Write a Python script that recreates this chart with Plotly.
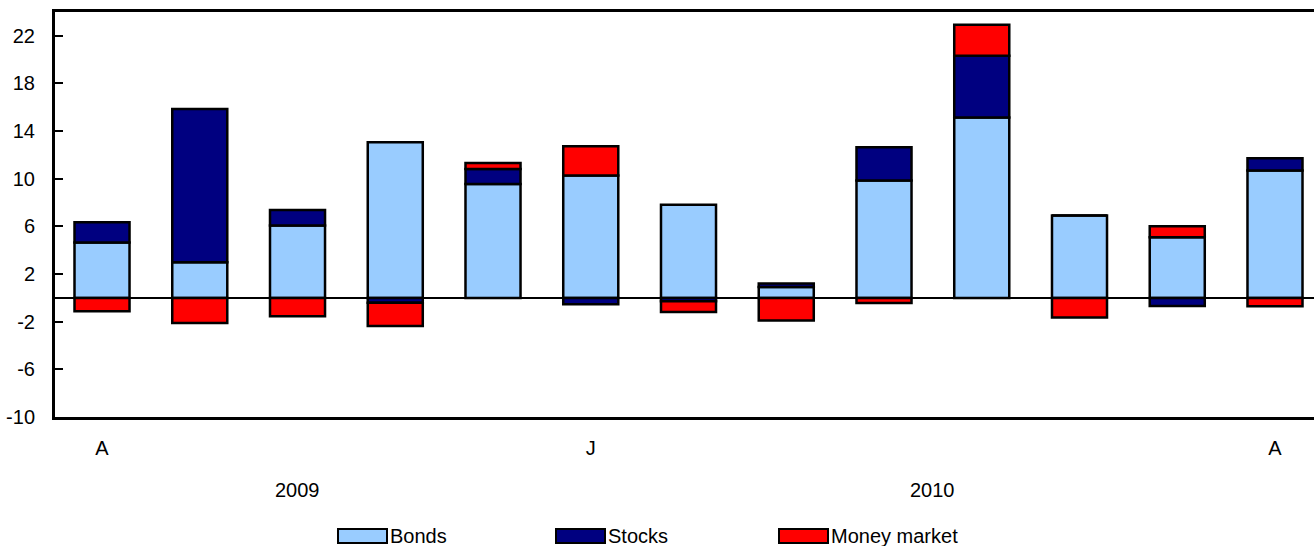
import plotly.graph_objects as go

months = ["A", "S", "O", "N", "D", "J", "F", "M", "A", "M", "J", "J", "A"]
years = ["2009", "2010"]
bonds = [4.65, 3.0, 6.08, 13.06, 9.57, 10.27, 7.81, 0.91, 9.85, 15.15, 6.92, 5.1, 10.69]
stocks = [1.7, 12.85, 1.3, -0.4, 1.26, -0.54, -0.28, 0.29, 2.79, 5.17, 0.0, -0.68, 1.03]
money_market = [-1.12, -2.1, -1.54, -1.95, 0.5, 2.45, -0.9, -1.9, -0.43, 2.6, -1.65, 0.92, -0.7]
series_names = ["Bonds", "Stocks", "Money market"]
colors = ["#99ccff", "#000080", "#ff0000"]
y_ticks = [-10, -6, -2, 2, 6, 10, 14, 18, 22]
y_tick_text = ["-10", "-6", "-2", "2", "6", "10", "14", "18", "22"]

FONT = "Liberation Sans, Arial, sans-serif"
x = list(range(len(months)))

fig = go.Figure()
for name, vals, col in zip(series_names, [bonds, stocks, money_market], colors):
    fig.add_trace(go.Bar(
        x=x, y=vals, name=name, width=0.563,
        marker=dict(color=col, line=dict(color="black", width=2.5)),
        showlegend=False,
    ))

fig.update_layout(
    width=1314, height=546,
    margin=dict(l=55, r=0, t=12, b=129),
    barmode="relative",
    plot_bgcolor="white", paper_bgcolor="white",
    font=dict(family=FONT, size=20, color="black"),
)
fig.update_xaxes(
    range=[-0.481, 12.399],
    tickmode="array", tickvals=[0, 5, 12],
    ticktext=[months[0], months[5], months[12]],
    ticks="", showline=True, linecolor="black", linewidth=3, mirror=True,
    showgrid=False, zeroline=False, ticklabelstandoff=11,
)
fig.update_yaxes(
    range=[-10, 24], tickmode="array", tickvals=y_ticks, ticktext=y_tick_text,
    ticks="inside", ticklen=8, tickwidth=2, tickcolor="black",
    showline=True, linecolor="black", linewidth=3,
    showgrid=False, zeroline=True, zerolinecolor="black", zerolinewidth=2,
    ticklabelstandoff=13,
)

# year labels
fig.add_annotation(x=2, y=-0.18, xref="x", yref="paper", text=years[0],
                   showarrow=False, yanchor="middle")
fig.add_annotation(x=8.5, y=-0.18, xref="x", yref="paper", text=years[1],
                   showarrow=False, yanchor="middle")

# custom legend
def px_to_paper_x(px):
    return (px - 55) / 1259.0

def py_to_paper_y(py):
    return (417 - py) / 405.0

leg_x = [338, 556, 779]
for lx, name, col in zip(leg_x, series_names, colors):
    fig.add_shape(type="rect", xref="paper", yref="paper",
                  x0=px_to_paper_x(lx), x1=px_to_paper_x(lx + 49),
                  y0=py_to_paper_y(543), y1=py_to_paper_y(529),
                  fillcolor=col, line=dict(color="black", width=2))
    fig.add_annotation(x=px_to_paper_x(lx + 50), y=py_to_paper_y(536),
                       xref="paper", yref="paper", text=name, showarrow=False,
                       xanchor="left", yanchor="middle")

fig.write_html("out.html", config={"displayModeBar": False},
               post_script="document.body.style.margin='0';document.body.style.overflow='hidden';")
